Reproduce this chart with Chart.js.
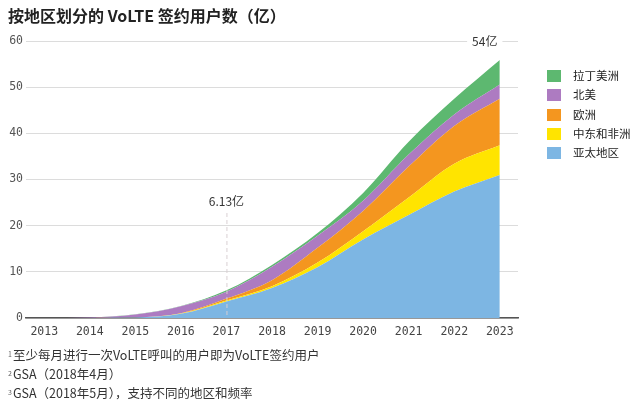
<!DOCTYPE html>
<html>
<head>
<meta charset="utf-8">
<script src="https://cdn.jsdelivr.net/npm/chart.js@4.4.1/dist/chart.umd.min.js"></script>
<style>
  html, body { margin: 0; padding: 0; background: #fff; }
  #wrap { position: relative; width: 640px; height: 404px; overflow: hidden; font-family: "Noto Sans CJK SC", "Noto Sans", sans-serif; }
  #title { position: absolute; left: 8px; top: 3px; font-size: 16px; font-weight: bold; color: #222; white-space: nowrap; }
  #chartBox { position: absolute; left: 0; top: 0; width: 640px; height: 404px; }
  .legend { position: absolute; left: 547px; font-size: 11.5px; color: #222; white-space: nowrap; }
  .legend span.sw { position: absolute; left: 0; top: 0; width: 14px; height: 12px; }
  .legend span.tx { position: absolute; left: 26px; top: -3px; }
  .note { position: absolute; left: 8px; font-size: 12.5px; color: #333; white-space: nowrap; }
  .note sup { font-size: 7px; color: #666; vertical-align: 3px; margin-right: 1px; }
</style>
</head>
<body>
<div id="wrap">
  <div id="chartBox"><canvas id="c" width="640" height="404"></canvas></div>
  <div id="title">按地区划分的 VoLTE 签约用户数（亿）</div>
  <div id="legend"></div>
  <div class="note" style="top:345px"><sup>1</sup>至少每月进行一次VoLTE呼叫的用户即为VoLTE签约用户</div>
  <div class="note" style="top:364px"><sup>2</sup>GSA（2018年4月）</div>
  <div class="note" style="top:383px"><sup>3</sup>GSA（2018年5月），支持不同的地区和频率</div>
</div>
<script>
// ---- data ----
const years = [2013, 2014, 2015, 2016, 2017, 2018, 2019, 2020, 2021, 2022, 2023];
const seriesNames = ['亚太地区', '中东和非洲', '欧洲', '北美', '拉丁美洲'];
const asiaPacific  = [0, 0.02, 0.1, 0.9, 3.6, 6.5, 11.0, 17.0, 22.3, 27.4, 31.0];
const middleEastAfrica = [0, 0, 0, 0.05, 0.2, 0.4, 1.0, 1.8, 3.8, 6.0, 6.4];
const europe       = [0, 0, 0.05, 0.1, 0.4, 1.3, 3.2, 4.4, 6.7, 8.2, 10.1];
const northAmerica = [0, 0.1, 0.6, 1.5, 1.5, 2.9, 2.6, 2.2, 2.6, 2.5, 3.1];
const latinAmerica = [0, 0, 0.05, 0.05, 0.3, 0.4, 0.6, 1.7, 2.8, 3.4, 5.3];
const yTicks = [0, 10, 20, 30, 40, 50, 60];
const markYear = 2017;
const markLabel = '6.13亿';
const endLabel = '54亿';
const colors = ['#7db6e3', '#ffe400', '#f4961f', '#ad7bc1', '#5db870'];

const seriesValues = [asiaPacific, middleEastAfrica, europe, northAmerica, latinAmerica];

// legend (reverse order)
const legendEl = document.getElementById('legend');
for (let i = seriesNames.length - 1, row = 0; i >= 0; i--, row++) {
  const d = document.createElement('div');
  d.className = 'legend';
  d.style.top = (70 + row * 19.3) + 'px';
  d.innerHTML = '<span class="sw" style="background:' + colors[i] + '"></span><span class="tx">' + seriesNames[i] + '</span>';
  legendEl.appendChild(d);
}

const datasets = seriesValues.map((vals, i) => ({
  label: seriesNames[i],
  data: years.map((y, j) => ({ x: y, y: vals[j] })),
  backgroundColor: colors[i],
  borderWidth: 0,
  pointRadius: 0,
  fill: i === 0 ? 'origin' : '-1',
  cubicInterpolationMode: 'monotone'
}));

const annotations = {
  id: 'annot',
  afterDatasetsDraw(chart) {
    const { ctx, scales: { x, y } } = chart;
    const px = x.getPixelForValue(markYear);
    ctx.save();
    ctx.strokeStyle = 'rgba(215,205,210,0.95)';
    ctx.lineWidth = 1;
    ctx.setLineDash([4, 3]);
    ctx.beginPath();
    ctx.moveTo(px + 0.5, 213);
    ctx.lineTo(px + 0.5, y.getPixelForValue(0));
    ctx.stroke();
    ctx.setLineDash([]);
    ctx.font = '12px "Noto Sans CJK SC", "Noto Sans", sans-serif';
    ctx.fillStyle = '#333';
    ctx.textAlign = 'center';
    ctx.textBaseline = 'middle';
    ctx.fillText(markLabel, px, 201);
    const ex = x.getPixelForValue(years[years.length - 1]) - 15;
    const ey = y.getPixelForValue(60);
    const w = ctx.measureText(endLabel).width;
    ctx.fillStyle = '#fff';
    ctx.fillRect(ex - w / 2 - 5, ey - 8, w + 10, 16);
    ctx.fillStyle = '#333';
    ctx.fillText(endLabel, ex, ey);
    ctx.restore();
  }
};

new Chart(document.getElementById('c'), {
  type: 'line',
  data: { datasets },
  options: {
    responsive: false,
    animation: false,
    events: [],
    layout: { padding: { left: 0, right: 122, top: 41, bottom: 0 } },
    plugins: { legend: { display: false }, tooltip: { enabled: false } },
    scales: {
      x: {
        type: 'linear',
        min: 2012.6,
        max: 2023.4,
        afterBuildTicks(scale) { scale.ticks = years.map(v => ({ value: v })); },
        afterFit(scale) { scale.height = 86; },
        grid: { display: false, drawTicks: false },
        border: { display: true, color: '#555', width: 1.5 },
        ticks: {
          padding: 7,
          color: '#444',
          font: { family: '"DejaVu Sans Mono", monospace', size: 11.5 },
          callback: v => String(v),
          maxRotation: 0,
          autoSkip: false
        }
      },
      y: {
        stacked: true,
        min: 0,
        max: 60,
        afterBuildTicks(scale) { scale.ticks = yTicks.map(v => ({ value: v })); },
        afterFit(scale) { scale.width = 26; },
        grid: { color: '#dcdcdc', lineWidth: 1, drawTicks: false },
        border: { display: false },
        ticks: {
          padding: 3,
          color: '#555',
          font: { family: '"DejaVu Sans Mono", monospace', size: 11.5 }
        }
      }
    }
  },
  plugins: [annotations]
});
</script>
</body>
</html>
